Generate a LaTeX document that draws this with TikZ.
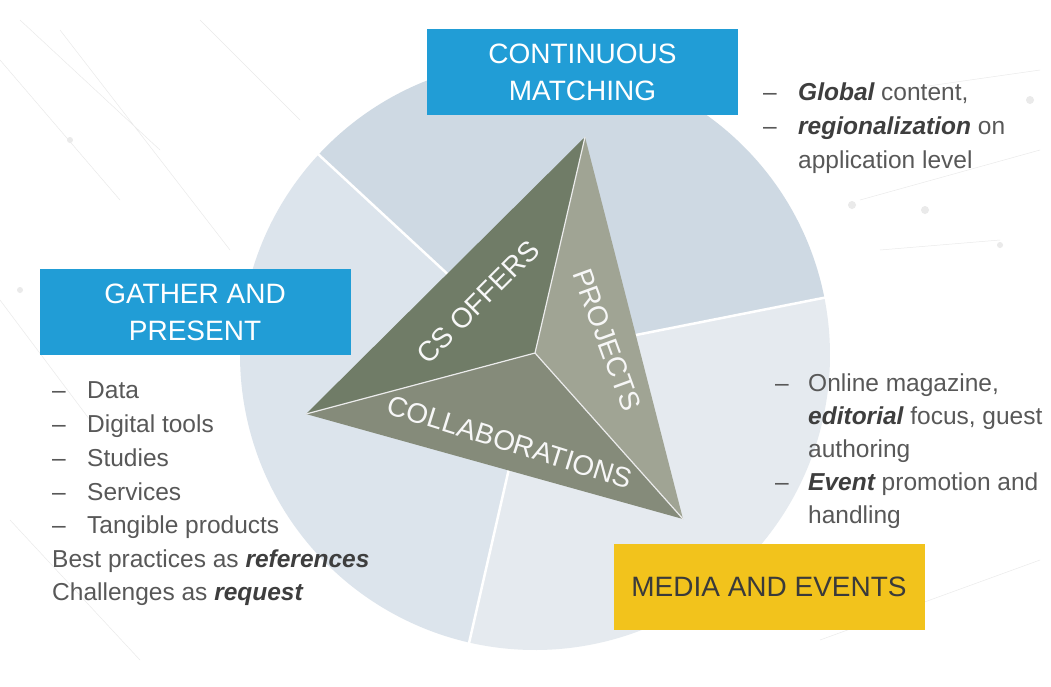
\documentclass[tikz,border=0pt]{standalone}
\usepackage{fontspec}
\setmainfont{Liberation Sans}
\usetikzlibrary{calc}
\definecolor{boxblue}{RGB}{33,157,214}
\definecolor{boxyellow}{RGB}{242,195,28}
\definecolor{secA}{RGB}{206,217,227}
\definecolor{secB}{RGB}{220,228,236}
\definecolor{secC}{RGB}{229,234,239}
\definecolor{faceA}{RGB}{112,124,103}
\definecolor{faceB}{RGB}{160,164,148}
\definecolor{faceC}{RGB}{133,139,122}
\definecolor{txt}{RGB}{88,88,88}
\definecolor{txtdark}{RGB}{62,62,62}
\definecolor{medtxt}{RGB}{58,58,58}
\definecolor{netgray}{RGB}{234,234,234}
\tikzset{x=1pt,y=-1pt,
  bigfont/.style={font=\fontsize{28}{37}\selectfont},
  listfont/.style={font=\fontsize{24.5}{30}\selectfont},
  titlebox/.style={bigfont, fill=boxblue, text=white, align=center,
    minimum width=311pt, minimum height=86pt, inner sep=0pt},
  listline/.style={listfont, text=txt, anchor=base west, inner sep=0pt},
  facelabel/.style={bigfont, text=white!94!gray, inner sep=0pt},
  sectorline/.style={white, line width=2.5pt},
  edgeline/.style={white!85!gray, line width=1.2pt},
  netline/.style={netgray, line width=0.5pt},
}
\newcommand{\bi}[1]{{\color{txtdark}\bfseries\itshape #1}}
\begin{document}
\begin{tikzpicture}
\useasboundingbox (0,0) rectangle (1051,686);
\fill[white] (0,0) rectangle (1051,686);
% faint background network
\draw[netline] (0,60) -- (120,200) (20,20) -- (160,150) (60,30) -- (230,250)
  (0,300) -- (90,420) (10,520) -- (140,660) (200,20) -- (300,120)
  (860,200) -- (1040,150) (820,640) -- (1040,560) (900,90) -- (1040,70)
  (880,250) -- (1000,240);
\fill[netgray] (1030,100) circle (4) (852,205) circle (4) (925,210) circle (4)
  (1000,245) circle (3) (20,290) circle (3) (70,140) circle (3);
% circle sectors
\coordinate (c) at (535,355);
\fill[secA] (c) -- ++(-11.2:295) arc[start angle=-11.2, end angle=-137.2, radius=295] -- cycle;
\fill[secB] (c) -- ++(-137.2:295) arc[start angle=-137.2, end angle=-257.1, radius=295] -- cycle;
\fill[secC] (c) -- ++(-257.1:295) arc[start angle=-257.1, end angle=-371.2, radius=295] -- cycle;
\coordinate (s1) at ($(c)+(-11.2:296)$);
\coordinate (s2) at ($(c)+(-137.2:296)$);
\coordinate (s3) at ($(c)+(-257.1:296)$);
\draw[sectorline] (c) -- (s1) (c) -- (s2) (c) -- (s3);
% pyramid
\coordinate (T) at (585,137);
\coordinate (L) at (306,414);
\coordinate (R) at (683,519);
\coordinate (I) at (535,353);
\fill[faceA] (T) -- (L) -- (I) -- cycle;
\fill[faceB] (T) -- (I) -- (R) -- cycle;
\fill[faceC] (L) -- (I) -- (R) -- cycle;
\draw[edgeline] (I) -- (T) (I) -- (L) (I) -- (R);
\node[facelabel, rotate=45] (cso) at (478,302) {CS OFFERS};
\node[facelabel, rotate=-70] (prj) at (607,340) {PROJECTS};
\node[facelabel, rotate=-17.4] (col) at (510,442) {COLLABORATIONS};
% boxes
\node[titlebox] (cm) at (582.5,72) {CONTINUOUS\\MATCHING};
\node[titlebox] (gp) at (195,312) {GATHER AND\\PRESENT};
\node[titlebox, fill=boxyellow, text=medtxt] (me) at (769,586.5) {MEDIA AND EVENTS};
% top right list
\node[listline] (d1) at (763,100) {–};
\node[listline] (t1) at (798,100) {\bi{Global} content,};
\node[listline] (d2) at (763,134) {–};
\node[listline] (t2) at (798,134) {\bi{regionalization} on};
\node[listline] (t3) at (798,168) {application level};
% right middle list
\node[listline] (d4) at (775,391) {–};
\node[listline] (t4) at (808,391) {Online magazine,};
\node[listline] (t5) at (808,424) {\bi{editorial} focus, guest};
\node[listline] (t6) at (808,457) {authoring};
\node[listline] (d7) at (775,490) {–};
\node[listline] (t7) at (808,490) {\bi{Event} promotion and};
\node[listline] (t8) at (808,523) {handling};
% left list
\node[listline] (l1d) at (52,398) {–};
\node[listline] (l1) at (87,398) {Data};
\node[listline] (l2d) at (52,432) {–};
\node[listline] (l2) at (87,432) {Digital tools};
\node[listline] (l3d) at (52,466) {–};
\node[listline] (l3) at (87,466) {Studies};
\node[listline] (l4d) at (52,500) {–};
\node[listline] (l4) at (87,500) {Services};
\node[listline] (l5d) at (52,533) {–};
\node[listline] (l5) at (87,533) {Tangible products};
\node[listline] (l6) at (52,567) {Best practices as \bi{references}};
\node[listline] (l7) at (52,600) {Challenges as \bi{request}};
\end{tikzpicture}
\end{document}
